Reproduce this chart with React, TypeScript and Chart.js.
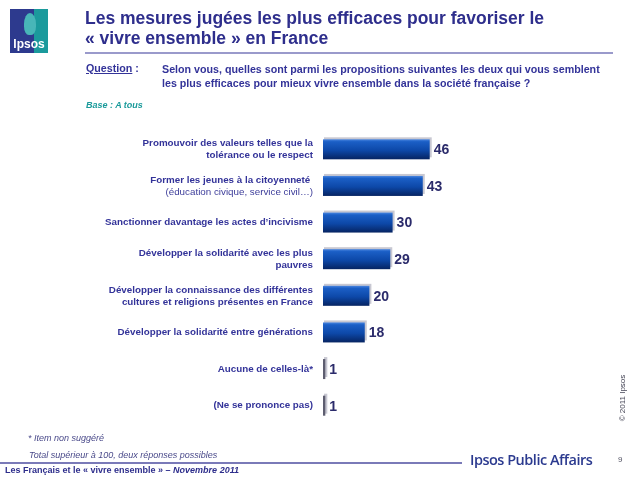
import React, { useEffect, useRef } from "react";
import { Chart, registerables } from "chart.js";

Chart.register(...registerables);

const categories: string[][] = [
  ["Promouvoir des valeurs telles que la", "tolérance ou le respect"],
  ["Former les jeunes à la citoyenneté ", "(éducation civique, service civil…)"],
  ["Sanctionner davantage les actes d’incivisme"],
  ["Développer la solidarité avec les plus", "pauvres"],
  ["Développer la connaissance des différentes", "cultures et religions présentes en France"],
  ["Développer la solidarité entre générations"],
  ["Aucune de celles-là*"],
  ["(Ne se prononce pas)"],
];
const values: number[] = [46, 43, 30, 29, 20, 18, 1, 1];
const regularSecondLine = new Set<number>([1]);

const FONT = "'Liberation Sans', Arial, Helvetica, sans-serif";
const NAVY = "#333399";

const barPlugin = {
  id: "ipsosBars",
  beforeDatasetsDraw(chart: any) {
    const ctx = chart.ctx;
    const meta = chart.getDatasetMeta(0);
    meta.data.forEach((el: any) => {
      const p = el.getProps(["x", "y", "base", "height"], true);
      const top = p.y - p.height / 2;
      const w = p.x - p.base;
      ctx.save();
      ctx.fillStyle = "#c8c8d2";
      ctx.fillRect(p.base + 1, top - 2, w + 1, p.height);
      if (w < 4) {
        ctx.fillStyle = "#5e5e70";
        ctx.fillRect(p.base, top, Math.max(w, 1.5), p.height);
      } else {
        const g = ctx.createLinearGradient(0, top, 0, top + p.height);
        g.addColorStop(0, "#4a86e0");
        g.addColorStop(0.12, "#1b5fc6");
        g.addColorStop(0.55, "#0d48a8");
        g.addColorStop(1, "#062462");
        ctx.fillStyle = g;
        ctx.fillRect(p.base, top, w, p.height);
      }
      ctx.restore();
    });
  },
  afterDatasetsDraw(chart: any) {
    const ctx = chart.ctx;
    const meta = chart.getDatasetMeta(0);
    const left = chart.chartArea.left;
    ctx.save();
    meta.data.forEach((el: any, i: number) => {
      const p = el.getProps(["x", "y"], true);
      ctx.font = `bold 14px ${FONT}`;
      ctx.fillStyle = "#2b2b6b";
      ctx.textAlign = "left";
      ctx.textBaseline = "middle";
      ctx.fillText(String(values[i]), p.x + 4, p.y + 1);
      const lines = categories[i];
      const lh = 12;
      const y0 = p.y - ((lines.length - 1) * lh) / 2;
      ctx.textAlign = "right";
      lines.forEach((line, j) => {
        const regular = j > 0 && regularSecondLine.has(i);
        ctx.font = `${regular ? "normal" : "bold"} 9.8px ${FONT}`;
        ctx.fillStyle = regular ? "#3d3d9a" : NAVY;
        ctx.fillText(line, left - 10, y0 + j * lh);
      });
    });
    ctx.restore();
  },
};

function IpsosChart() {
  const ref = useRef<HTMLCanvasElement | null>(null);
  useEffect(() => {
    if (!ref.current) return;
    const chart = new Chart(ref.current, {
      type: "bar",
      data: {
        labels: categories.map((c) => c.join(" ")),
        datasets: [
          {
            data: values,
            backgroundColor: "rgba(0,0,0,0)",
            borderWidth: 0,
            barThickness: 20,
          },
        ],
      },
      options: {
        indexAxis: "y",
        responsive: false,
        maintainAspectRatio: false,
        animation: false,
        layout: { padding: { left: 323, right: 83, top: 131, bottom: 54 } },
        scales: {
          x: { display: false, min: 0, max: 100 },
          y: { display: false },
        },
        plugins: { legend: { display: false }, tooltip: { enabled: false } },
      },
      plugins: [barPlugin],
    } as any);
    return () => chart.destroy();
  }, []);
  return (
    <canvas
      ref={ref}
      width={638}
      height={478}
      style={{ position: "absolute", left: 0, top: 0, width: 638, height: 478 }}
    />
  );
}

export default function App() {
  const abs = (s: React.CSSProperties): React.CSSProperties => ({
    position: "absolute",
    whiteSpace: "nowrap",
    fontFamily: FONT,
    ...s,
  });
  return (
    <div
      style={{
        position: "fixed",
        left: 0,
        top: 0,
        width: 638,
        height: 478,
        background: "#ffffff",
        overflow: "hidden",
      }}
    >
      <IpsosChart />
      {/* Logo */}
      <div
        style={abs({
          left: 10,
          top: 9,
          width: 38,
          height: 44,
          background: "linear-gradient(to right, #2d3a8e 0%, #2d3a8e 62%, #1b9a9c 62%, #1b9a9c 100%)",
        })}
      >
        <div
          style={abs({
            left: 14,
            top: 4,
            width: 12,
            height: 22,
            borderRadius: "50% 50% 40% 40%",
            background: "#48b6b8",
          })}
        />
        <div
          style={abs({
            left: 2,
            top: 28,
            width: 34,
            textAlign: "center",
            color: "#ffffff",
            fontWeight: "bold",
            fontSize: 12,
            lineHeight: "14px",
          })}
        >
          Ipsos
        </div>
      </div>
      {/* Title */}
      <div
        style={abs({
          left: 85,
          top: 8,
          color: "#2e2e8c",
          fontWeight: "bold",
          fontSize: 17.5,
          lineHeight: "20px",
        })}
      >
        Les mesures jugées les plus efficaces pour favoriser le
        <br />« vivre ensemble » en France
      </div>
      <div style={abs({ left: 85, top: 52, width: 528, height: 2, background: "#9a9acb" })} />
      {/* Question */}
      <div
        style={abs({
          left: 86,
          top: 62,
          color: NAVY,
          fontWeight: "bold",
          fontSize: 10.7,
          lineHeight: "13px",
        })}
      >
        <span style={{ textDecoration: "underline" }}>Question</span> :
      </div>
      <div
        style={abs({
          left: 162,
          top: 62,
          color: NAVY,
          fontWeight: "bold",
          fontSize: 10.7,
          lineHeight: "14px",
        })}
      >
        Selon vous, quelles sont parmi les propositions suivantes les deux qui vous semblent
        <br />
        les plus efficaces pour mieux vivre ensemble dans la société française ?
      </div>
      <div
        style={abs({
          left: 86,
          top: 100,
          color: "#1a9a9a",
          fontWeight: "bold",
          fontStyle: "italic",
          fontSize: 9,
          lineHeight: "11px",
        })}
      >
        Base : A tous
      </div>
      {/* Footer notes */}
      <div
        style={abs({
          left: 28,
          top: 433,
          color: "#4a4a8a",
          fontStyle: "italic",
          fontSize: 9,
          lineHeight: "11px",
        })}
      >
        * Item non suggéré
      </div>
      <div
        style={abs({
          left: 29,
          top: 450,
          color: "#4a4a8a",
          fontStyle: "italic",
          fontSize: 9,
          lineHeight: "11px",
        })}
      >
        Total supérieur à 100, deux réponses possibles
      </div>
      <div style={abs({ left: 0, top: 462, width: 462, height: 1.5, background: "#7a7ab8" })} />
      <div
        style={abs({
          left: 5,
          top: 465,
          color: "#2e2e8c",
          fontWeight: "bold",
          fontSize: 9,
          lineHeight: "11px",
        })}
      >
        Les Français et le « vivre ensemble » – <i>Novembre 2011</i>
      </div>
      <div
        style={abs({
          left: 470,
          top: 451,
          color: "#2b3a8f",
          fontFamily: "'Open Sans', 'Noto Sans', sans-serif",
          fontWeight: 600,
          fontSize: 14.5,
          lineHeight: "18px",
          letterSpacing: -0.5,
        })}
      >
        Ipsos Public Affairs
      </div>
      <div
        style={abs({ left: 618, top: 455, color: "#555566", fontSize: 8, lineHeight: "10px" })}
      >
        9
      </div>
      <div
        style={abs({
          left: 598,
          top: 393,
          width: 50,
          textAlign: "center",
          color: "#444455",
          fontSize: 8,
          lineHeight: "10px",
          transform: "rotate(-90deg)",
        })}
      >
        © 2011 Ipsos
      </div>
    </div>
  );
}
